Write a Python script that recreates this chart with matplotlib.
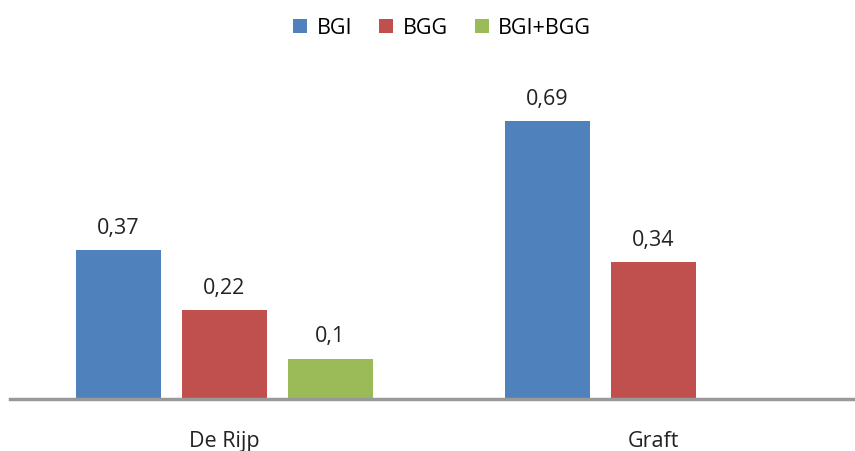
import matplotlib.pyplot as plt
import numpy as np

plt.rcParams['font.family'] = ['Open Sans', 'DejaVu Sans']

categories = ["De Rijp", "Graft"]
series = ["BGI", "BGG", "BGI+BGG"]
values = {
    "BGI": [0.37, 0.69],
    "BGG": [0.22, 0.34],
    "BGI+BGG": [0.10, None],
}
colors = {"BGI": "#4F81BD", "BGG": "#C0504D", "BGI+BGG": "#9BBB59"}

fig = plt.figure(figsize=(8.55, 4.51), dpi=100)
ax = fig.add_axes([10 / 855, 52 / 451, 858 / 855, 322 / 451])

x = np.arange(len(categories))
step = 0.247
width = 0.198
for i, name in enumerate(series):
    for j, v in enumerate(values[name]):
        if v is None:
            continue
        pos = x[j] + (i - 1) * step
        ax.bar(pos, v, width, color=colors[name], label=name if j == 0 else None)
        ax.text(pos, v + 0.028, f"{v:g}".replace(".", ","), ha="center", va="bottom",
                fontsize=15.5, color="#222222")

ax.set_xlim(-0.5, 1.5)
ax.set_ylim(0, 0.8)
ax.set_yticks([])
ax.set_xticks(x)
ax.set_xticklabels(categories, fontsize=15.5, color="#222222")
ax.tick_params(axis="x", length=0, pad=23)
for s in ["top", "right", "left"]:
    ax.spines[s].set_visible(False)
ax.spines["bottom"].set_color("#999999")
ax.spines["bottom"].set_linewidth(2.5)

fig.legend(loc="center", bbox_to_anchor=(442 / 855, 1 - 28 / 451), ncol=3, frameon=False,
           fontsize=15.5, handlelength=0.65, handleheight=0.65, columnspacing=1.25,
           handletextpad=0.45)

fig.savefig("out.png", dpi=100)
